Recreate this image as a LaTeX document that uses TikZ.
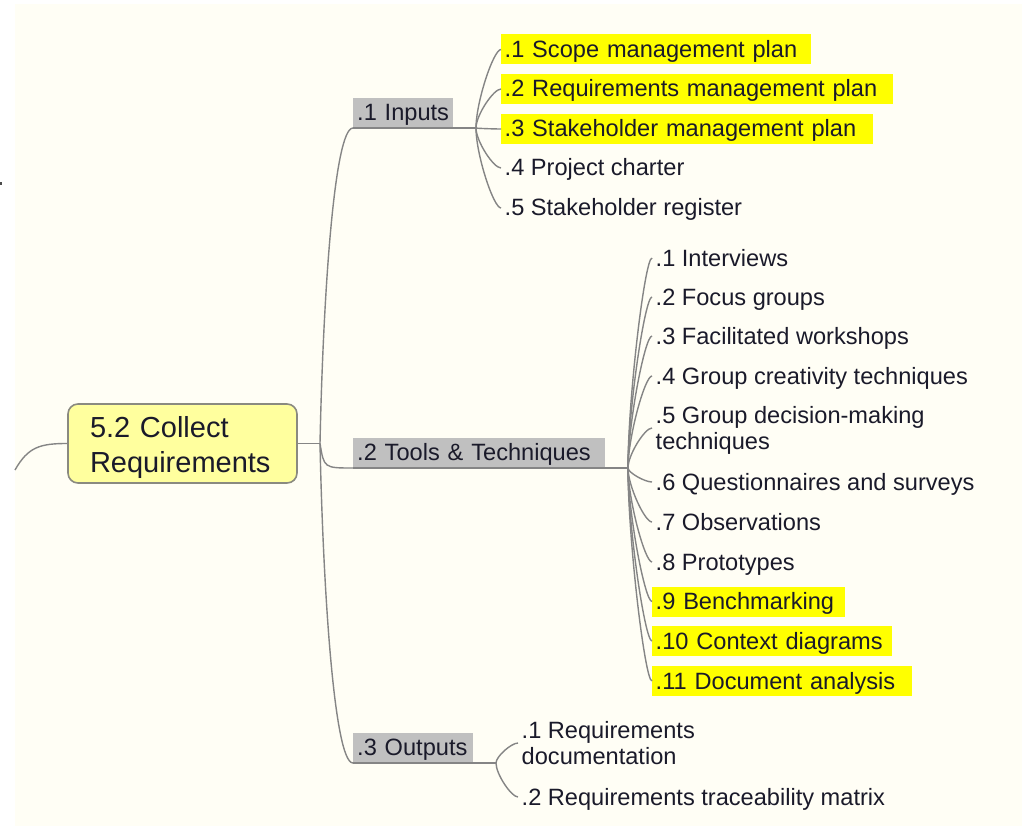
\documentclass[tikz,border=0pt]{standalone}
\usepackage{fontspec}
\setmainfont{Liberation Sans}
\usetikzlibrary{calc}
\definecolor{bg}{HTML}{FFFEF5}
\definecolor{ln}{HTML}{858585}
\definecolor{hl}{HTML}{FFFF00}
\definecolor{gb}{HTML}{C0C0C0}
\definecolor{mainfill}{HTML}{FFFF9E}
\definecolor{mainline}{HTML}{8A8A80}
\definecolor{tx}{HTML}{1A1A2A}
\newcommand\ms{\rule[-5pt]{0pt}{26pt}}
\newcommand\mainstrut{\rule[-6.3pt]{0pt}{35pt}}
\begin{document}
\begin{tikzpicture}[x=1pt,y=-1pt,
  conn/.style={draw=ln, line width=1.4pt},
  item/.style={anchor=west, inner xsep=3.5pt, inner ysep=2pt,
    font=\fontsize{23.6}{26}\selectfont, text=tx, align=left},
  hlitem/.style={item, fill=hl},
  grp/.style={anchor=south west, fill=gb, inner xsep=4pt, inner ysep=2pt,
    font=\fontsize{23.6}{26}\selectfont, text=tx, align=left},
  mainbox/.style={draw=mainline, line width=1.6pt, fill=mainfill,
    rounded corners=10pt, minimum height=79pt, text width=185pt,
    inner xsep=22pt, inner ysep=0pt, align=left,
    font=\fontsize{29}{35}\selectfont, text=tx}
]
\useasboundingbox (0,0) rectangle (1022,826);
\fill[white] (0,0) rectangle (1022,826);
\fill[bg] (15,4) rectangle (1022,826);
\fill[black!70] (0,182) rectangle (2,185);

% main topic
\node[mainbox] (main) at (182.5,443.5) {\mainstrut 5.2 Collect\\\mainstrut Requirements};
\coordinate (inL) at (15,470);
\draw[conn] (inL) .. controls (28,447) and (40,443.5) .. (main.west);
\coordinate (tr) at (320,443.5);
\draw[conn] (main.east) -- (tr);

% branch labels
\node[grp, text width=92pt] (inp) at (353,128) {\ms .1 Inputs};
\node[grp, text width=244pt] (tools) at (353,468) {\ms .2 Tools \& Techniques};
\node[grp, text width=112pt] (outp) at (353,763) {\ms .3 Outputs};

\draw[conn] (tr) .. controls (323,300) and (334,128) .. (inp.south west);
\draw[conn] (tr) .. controls (324,468) .. (tools.south west);
\draw[conn] (tr) .. controls (323,586) and (334,763) .. (outp.south west);

\coordinate (fi) at (476,128);
\coordinate (ft) at (628,468);
\coordinate (fo) at (496,763);
\draw[conn] (inp.south west) -- (fi);
\draw[conn] (tools.south west) -- (ft);
\draw[conn] (outp.south west) -- (fo);

% inputs
\node[hlitem, text width=303pt] (i1) at (501,49.5) {\ms .1 Scope management plan};
\node[hlitem, text width=385pt] (i2) at (501,89) {\ms .2 Requirements management plan};
\node[hlitem, text width=365pt] (i3) at (501,129) {\ms .3 Stakeholder management plan};
\node[item] (i4) at (501,168) {\ms .4 Project charter};
\node[item] (i5) at (501,208) {\ms .5 Stakeholder register};
\foreach \n in {i1,i2,i3,i4,i5}
  \draw[conn] (fi) .. controls ($(fi)!0.33!(fi |- \n.west)$) and ($(fi |- \n.west)!0.7!(\n.west)$) .. (\n.west);

% tools & techniques
\node[item] (t1) at (652,258) {\ms .1 Interviews};
\node[item] (t2) at (652,297) {\ms .2 Focus groups};
\node[item] (t3) at (652,336) {\ms .3 Facilitated workshops};
\node[item] (t4) at (652,376) {\ms .4 Group creativity techniques};
\node[item] (t5) at (652,428) {\ms .5 Group decision-making\\\ms techniques};
\node[item] (t6) at (652,482) {\ms .6 Questionnaires and surveys};
\node[item] (t7) at (652,522) {\ms .7 Observations};
\node[item] (t8) at (652,562) {\ms .8 Prototypes};
\node[hlitem, text width=186pt] (t9) at (652,601.5) {\ms .9 Benchmarking};
\node[hlitem, text width=233pt] (t10) at (652,641) {\ms .10 Context diagrams};
\node[hlitem, text width=253pt] (t11) at (652,681) {\ms .11 Document analysis};
\foreach \n in {t1,t2,t3,t4,t5,t6,t7,t8,t9,t10,t11}
  \draw[conn] (ft) .. controls ($(ft)!0.33!(ft |- \n.west)$) and ($(ft |- \n.west)!0.7!(\n.west)$) .. (\n.west);

% outputs
\node[item] (o1) at (518,743) {\ms .1 Requirements\\\ms documentation};
\node[item] (o2) at (518,797) {\ms .2 Requirements traceability matrix};
\foreach \n in {o1,o2}
  \draw[conn] (fo) .. controls ($(fo)!0.33!(fo |- \n.west)$) and ($(fo |- \n.west)!0.7!(\n.west)$) .. (\n.west);
\end{tikzpicture}
\end{document}
